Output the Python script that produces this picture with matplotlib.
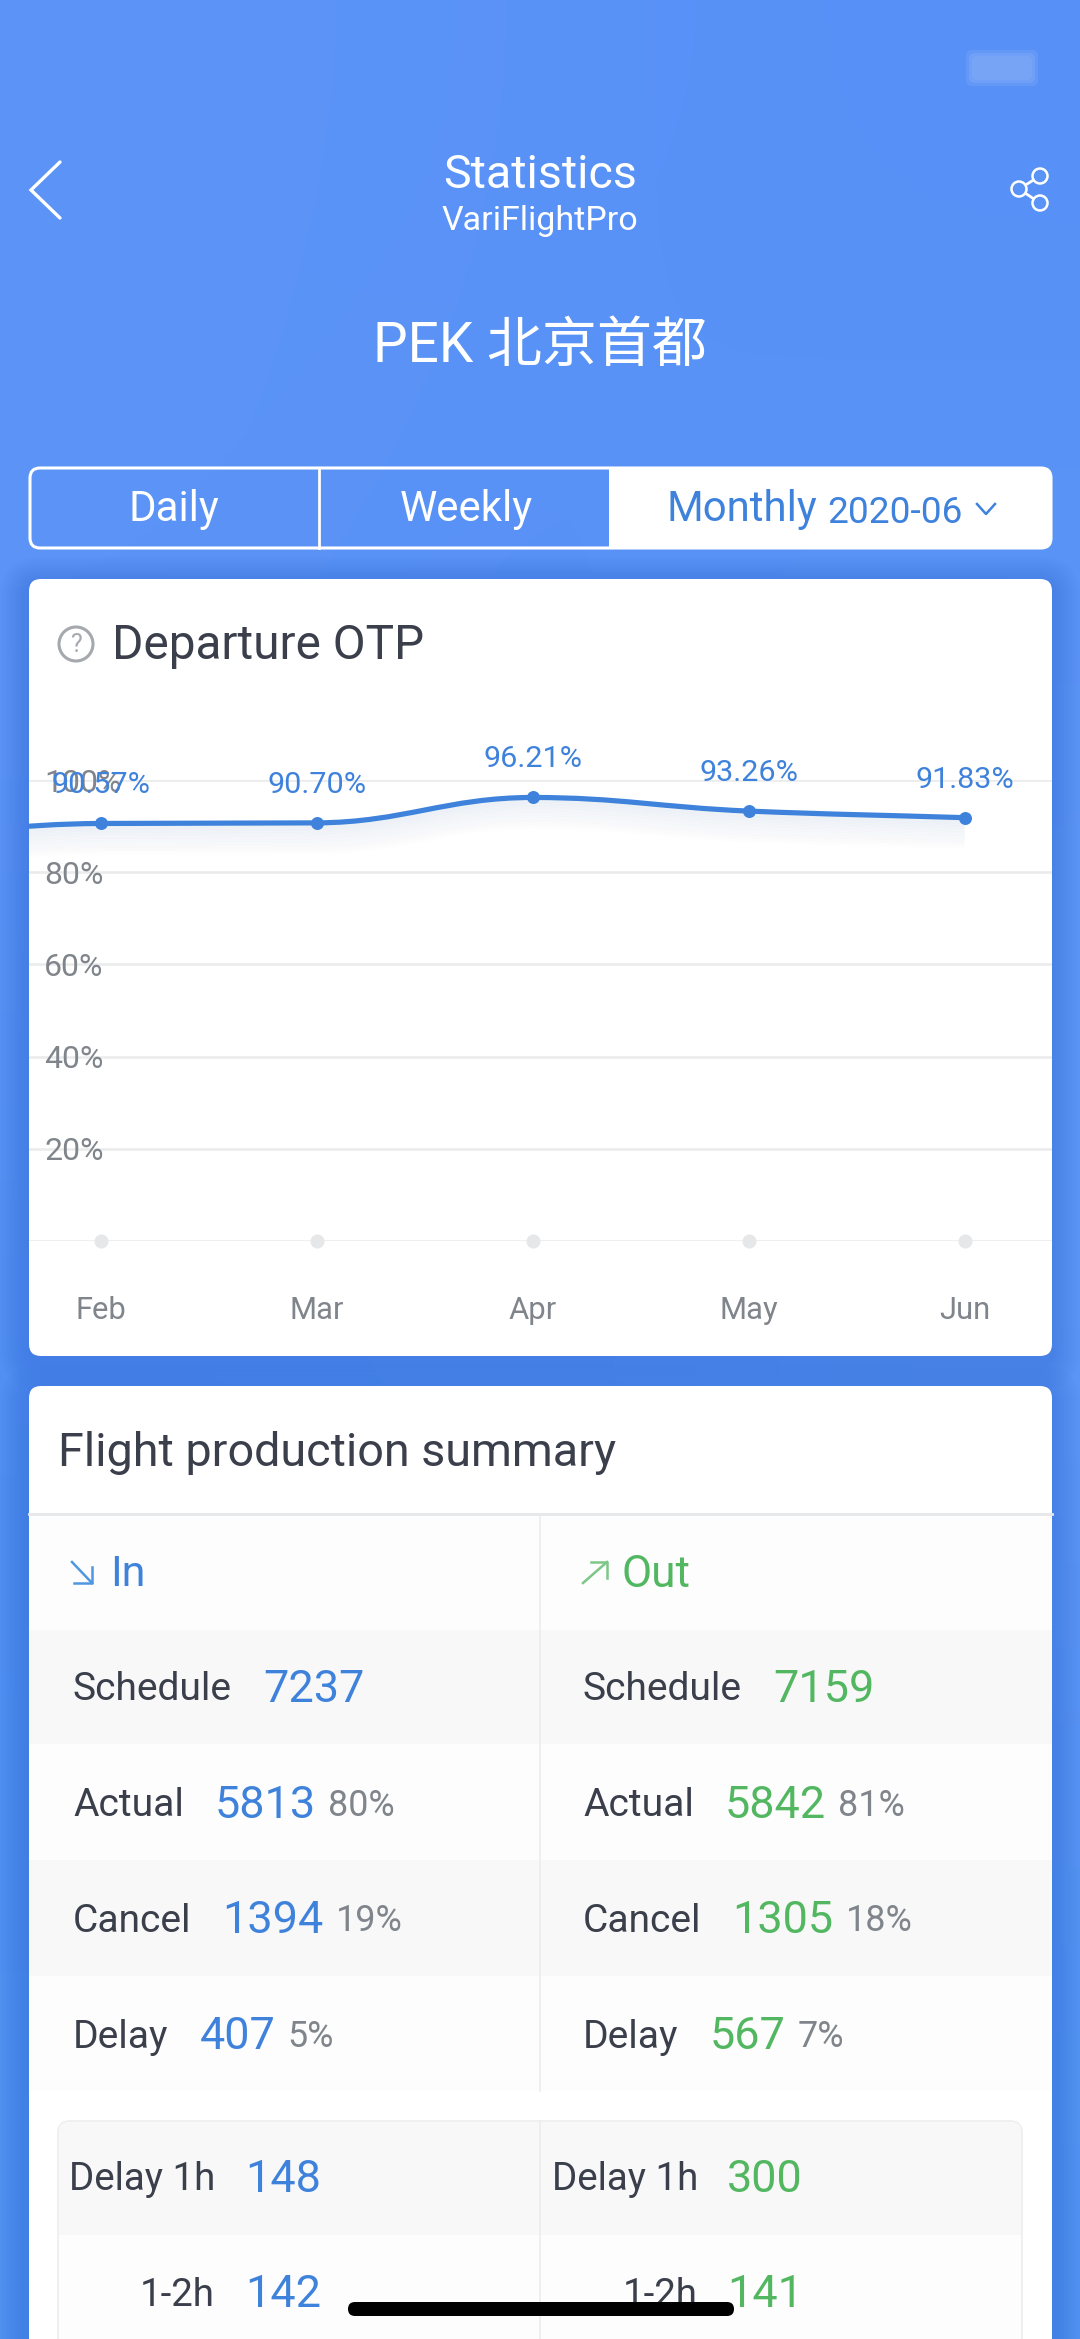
"""
VariFlight statistics screen, drawn in pixel coords on one big axes plus the otp chart axes
"""

import numpy as np
import matplotlib
matplotlib.use('Agg')
import matplotlib.pyplot as plt
from matplotlib.colors import to_rgb
from matplotlib.patches import FancyBboxPatch, Rectangle, Circle, PathPatch
from matplotlib.path import Path
from matplotlib.transforms import ScaledTranslation

plt.rcParams['font.family'] = ['Roboto', 'Noto Sans CJK SC', 'DejaVu Sans']

# otp chart data (jan is off screen, only its line end shows)
months = ['Jan', 'Feb', 'Mar', 'Apr', 'May', 'Jun']
otp = [87.0, 90.57, 90.70, 96.21, 93.26, 91.83]
otp_labels = ['90.57%', '90.70%', '96.21%', '93.26%', '91.83%']
y_ticks = [0, 20, 40, 60, 80, 100]
y_tick_labels = ['', '20%', '40%', '60%', '80%', '100%']

# summary table
row_names = ['Schedule', 'Actual', 'Cancel', 'Delay']
in_values = ['7237', '5813', '1394', '407']
in_shares = ['', '80%', '19%', '5%']
out_values = ['7159', '5842', '1305', '567']
out_shares = ['', '81%', '18%', '7%']

# delay table
delay_names = ['Delay 1h', '1-2h']
delay_in = ['148', '142']
delay_out = ['300', '141']

# background colours
bg_colors = [['#5C94F7', '#5A93F8', '#5790F6'],
             ['#5C93F6', '#5790F5', '#5C96F6'],
             ['#5590F4', '#5490F5', '#5E98F7'],
             ['#4F8EF2', '#5691F4', '#5A94F6'],
             ['#4F91F1', '#5290F2', '#5293F2']]

blue = '#3F82DC'
green = '#52B760'
dark = '#3A3F4B'
gray = '#80858C'
white = 'white'

W, H = 1080, 2339
DPI = 100


def px(size):
  """
  font size from pixels
  """
  return size * 72 / DPI


def card(ax, x0, y0, x1, y1):
  """
  white rounded card with soft shadow
  """
  for i in range(10):
    grow = 28 - i * 2.8
    ax.add_patch(FancyBboxPatch((x0 - grow, y0 - grow + 6), x1 - x0 + 2 * grow, y1 - y0 + 2 * grow, boxstyle='round,pad=0,rounding_size={}'.format(12 + grow), fc='#2A66CF', ec='none', alpha=0.035, zorder=2))
  ax.add_patch(FancyBboxPatch((x0, y0), x1 - x0, y1 - y0, boxstyle='round,pad=0,rounding_size=12', fc=white, ec='none', zorder=3))


def run_text(ax, fig, x, y, parts):
  """
  draw text pieces one after another, parts = (text, size, color, gap after)
  """
  rend = fig.canvas.get_renderer()
  for text, size, color, gap in parts:
    if text == '':
      continue
    t = ax.text(x, y, text, fontsize=px(size), color=color, va='center', ha='left', zorder=6)
    x = t.get_window_extent(rend).x1 * W / fig.bbox.width + gap


def smooth_path(xs, ys):
  """
  bezier path through the points, monotone tangents, flat at peaks
  """
  xs, ys = np.asarray(xs, float), np.asarray(ys, float)
  d = np.diff(ys) / np.diff(xs)
  m = np.zeros(len(xs))
  m[0], m[-1] = d[0], d[-1]
  for i in range(1, len(xs) - 1):
    if d[i - 1] * d[i] > 0:
      m[i] = 2 * d[i - 1] * d[i] / (d[i - 1] + d[i])
  verts, codes = [(xs[0], ys[0])], [Path.MOVETO]
  for i in range(len(xs) - 1):
    h = (xs[i + 1] - xs[i]) * 0.4
    verts += [(xs[i] + h, ys[i] + m[i] * h), (xs[i + 1] - h, ys[i + 1] - m[i + 1] * h), (xs[i + 1], ys[i + 1])]
    codes += [Path.CURVE4] * 3
  return Path(verts, codes)


fig = plt.figure(figsize=(W / DPI, H / DPI), dpi=DPI)
fig.canvas.draw()

# --
# background and pixel axes

ax = fig.add_axes([0, 0, 1, 1])
ax.set_xlim(0, W)
ax.set_ylim(H, 0)
ax.axis('off')
bg = np.array([[to_rgb(c) for c in row] for row in bg_colors])
ax.imshow(bg, extent=(0, W, H, 0), aspect='auto', interpolation='bicubic', zorder=0)
ax.set_xlim(0, W)
ax.set_ylim(H, 0)

# blurred status bar
for grow in [0, 3, 6]:
  ax.add_patch(FancyBboxPatch((972 - grow, 56 - grow), 60 + 2 * grow, 24 + 2 * grow, boxstyle='round,pad=0,rounding_size=6', fc='#9DBDF8', ec='none', alpha=0.2, zorder=1))

# --
# header

ax.plot([60, 31, 60], [162, 190, 218], color=white, lw=2.4, solid_capstyle='round', solid_joinstyle='miter', zorder=6)
ax.plot([1040, 1019, 1040], [176, 189, 203], color=white, lw=2.0, zorder=6)
for c in [(1040, 176), (1019, 189), (1040, 203)]:
  ax.add_patch(Circle(c, 7.5, fc='#5A93F6', ec=white, lw=1.8, zorder=7))

ax.text(540, 175, 'Statistics', fontsize=px(46.5), color=white, ha='center', va='center', zorder=6)
ax.text(540, 221, 'VariFlightPro', fontsize=px(34), color=white, ha='center', va='center', zorder=6)
ax.text(540, 347, 'PEK 北京首都', fontsize=px(55), color=white, ha='center', va='center', zorder=6)

# --
# tabs

ax.add_patch(FancyBboxPatch((609, 467), 443, 82, boxstyle='round,pad=0,rounding_size=10', fc=white, ec='none', zorder=3))
ax.add_patch(Rectangle((609, 467), 20, 82, fc=white, ec='none', zorder=3))
ax.add_patch(FancyBboxPatch((30, 468), 1021, 80, boxstyle='round,pad=0,rounding_size=10', fc='none', ec=white, lw=2.2, zorder=4))
ax.plot([319, 319], [468, 548], color=white, lw=2.0, zorder=4)
ax.text(174, 510, 'Daily', fontsize=px(42), color=white, ha='center', va='center', zorder=6)
ax.text(466, 510, 'Weekly', fontsize=px(42), color=white, ha='center', va='center', zorder=6)
ax.text(666, 510, 'Monthly', fontsize=px(42), color=blue, ha='left', va='center', zorder=6)
ax.text(827, 513, '2020-06', fontsize=px(37), color=blue, ha='left', va='center', zorder=6)
ax.plot([977, 986, 995], [504, 514, 504], color=blue, lw=1.8, zorder=6)

# --
# otp card

card(ax, 29, 579, 1052, 1356)
ax.add_patch(Circle((76, 644), 17, fc=white, ec='#A5A9AE', lw=2.2, zorder=5))
ax.text(76, 645, '?', fontsize=px(25), color='#A5A9AE', ha='center', va='center', zorder=6)
ax.text(112, 646, 'Departure OTP', fontsize=px(47.7), color=dark, ha='left', va='center', zorder=6)

# --
# summary card, runs past the bottom of the screen

card(ax, 29, 1386, 1052, H + 60)
ax.text(58, 1453, 'Flight production summary', fontsize=px(46.8), color=dark, ha='left', va='center', zorder=6)
ax.plot([29, 1052], [1514, 1514], color='#E6E7E9', lw=2, zorder=4)

# row bands
band_edges = [1516, 1630, 1744, 1860, 1976, 2091]
band_colors = ['#FDFDFD', '#F8F8F8', '#FDFDFD', '#F8F8F8', '#FDFDFD']
for i, c in enumerate(band_colors):
  ax.add_patch(Rectangle((29, band_edges[i]), 1023, band_edges[i + 1] - band_edges[i], fc=c, ec='none', zorder=4))
ax.plot([540, 540], [1516, 2091], color='#ECEDEE', lw=1.2, zorder=5)

# in / out headers
ax.plot([72, 92], [1562, 1583], color='#4F97E0', lw=1.8, zorder=6)
ax.plot([74, 92, 92], [1583, 1583, 1567], color='#4F97E0', lw=1.8, zorder=6)
ax.plot([583, 607], [1583, 1562], color='#7CC787', lw=1.8, zorder=6)
ax.plot([591, 607, 607], [1562, 1562, 1578], color='#7CC787', lw=1.8, zorder=6)
ax.text(110, 1575, 'In', fontsize=px(43), color=blue, ha='left', va='center', zorder=6)
ax.text(622, 1575, 'Out', fontsize=px(44), color=green, ha='left', va='center', zorder=6)

row_y = [1690, 1806, 1921, 2037]
for i, name in enumerate(row_names):
  run_text(ax, fig, 73, row_y[i], [(name, 39, dark, 31), (in_values[i], 45, blue, 12), (in_shares[i], 36, gray, 0)])
  run_text(ax, fig, 583, row_y[i], [(name, 39, dark, 31), (out_values[i], 45, green, 12), (out_shares[i], 36, gray, 0)])

# delay box
ax.add_patch(FancyBboxPatch((58, 2121), 964, 330, boxstyle='round,pad=0,rounding_size=12', fc='#FDFDFD', ec='#EDEEEF', lw=1.2, zorder=4))
ax.add_patch(FancyBboxPatch((59, 2122), 962, 60, boxstyle='round,pad=0,rounding_size=12', fc='#F8F8F8', ec='none', zorder=4))
ax.add_patch(Rectangle((59, 2150), 962, 85, fc='#F8F8F8', ec='none', zorder=4))
ax.plot([540, 540], [2121, H], color='#ECEDEE', lw=1.2, zorder=5)

delay_y = [2180, 2295]
for i, name in enumerate(delay_names):
  ax.text(215, delay_y[i], name, fontsize=px(38.5), color=dark, ha='right', va='center', zorder=6)
  ax.text(245, delay_y[i], delay_in[i], fontsize=px(45), color=blue, ha='left', va='center', zorder=6)
  ax.text(698, delay_y[i], name, fontsize=px(38.5), color=dark, ha='right', va='center', zorder=6)
  ax.text(727, delay_y[i], delay_out[i], fontsize=px(45), color=green, ha='left', va='center', zorder=6)

# home indicator
ax.add_patch(FancyBboxPatch((348, 2302), 386, 14, boxstyle='round,pad=0,rounding_size=7', fc='black', ec='none', zorder=9))

# --
# otp chart, axes spans the 0-100 gridlines of the card

x_first, x_step = 101, 215.9
left, right, top, bottom = 29, 1052, 780, 1241
ax_c = fig.add_axes([left / W, 1 - bottom / H, (right - left) / W, (bottom - top) / H])
ax_c.patch.set_visible(False)
for s in ax_c.spines.values():
  s.set_visible(False)

idx = np.arange(len(months))
ax_c.set_xlim(1 + (left - x_first) / x_step, 1 + (right - x_first) / x_step)
ax_c.set_ylim(0, 100)

ax_c.set_yticks(y_ticks, y_tick_labels)
ax_c.set_xticks(idx[1:], months[1:])
ax_c.tick_params(axis='y', length=0, pad=-px(15), labelsize=px(32), labelcolor=gray)
ax_c.tick_params(axis='x', length=0, pad=px(55), labelsize=px(31), labelcolor=gray)
for t in ax_c.get_yticklabels():
  t.set_ha('left')
ax_c.grid(axis='y', color='#EAEBEC', lw=1.8, zorder=1)
ax_c.set_axisbelow(True)

# line shadow, same curve stacked downwards
line = smooth_path(idx, otp)
for off in np.arange(1, 30, 1.5):
  shift = ax_c.transData + ScaledTranslation(0, -off / DPI, fig.dpi_scale_trans)
  ax_c.add_patch(PathPatch(line, fc='none', ec='#3F6FA8', lw=px(5), alpha=0.03 * (1 - off / 32), transform=shift, zorder=2))

ax_c.add_patch(PathPatch(line, fc='none', ec='#3F82DC', lw=px(5.2), zorder=3))
ax_c.plot(idx[1:], otp[1:], 'o', color='#3F82DC', ms=px(13), mew=0, zorder=4)
ax_c.plot(idx[1:], np.zeros(len(idx) - 1), 'o', color='#E6E7E9', ms=px(14), mew=0, clip_on=False, zorder=4)

for i, label in zip(idx[1:], otp_labels):
  ax_c.annotate(label, (i, otp[i]), xytext=(0, px(38)), textcoords='offset points', ha='center', va='center', fontsize=px(30.5), color=blue, zorder=5)

plt.savefig('out.png', dpi=DPI)
